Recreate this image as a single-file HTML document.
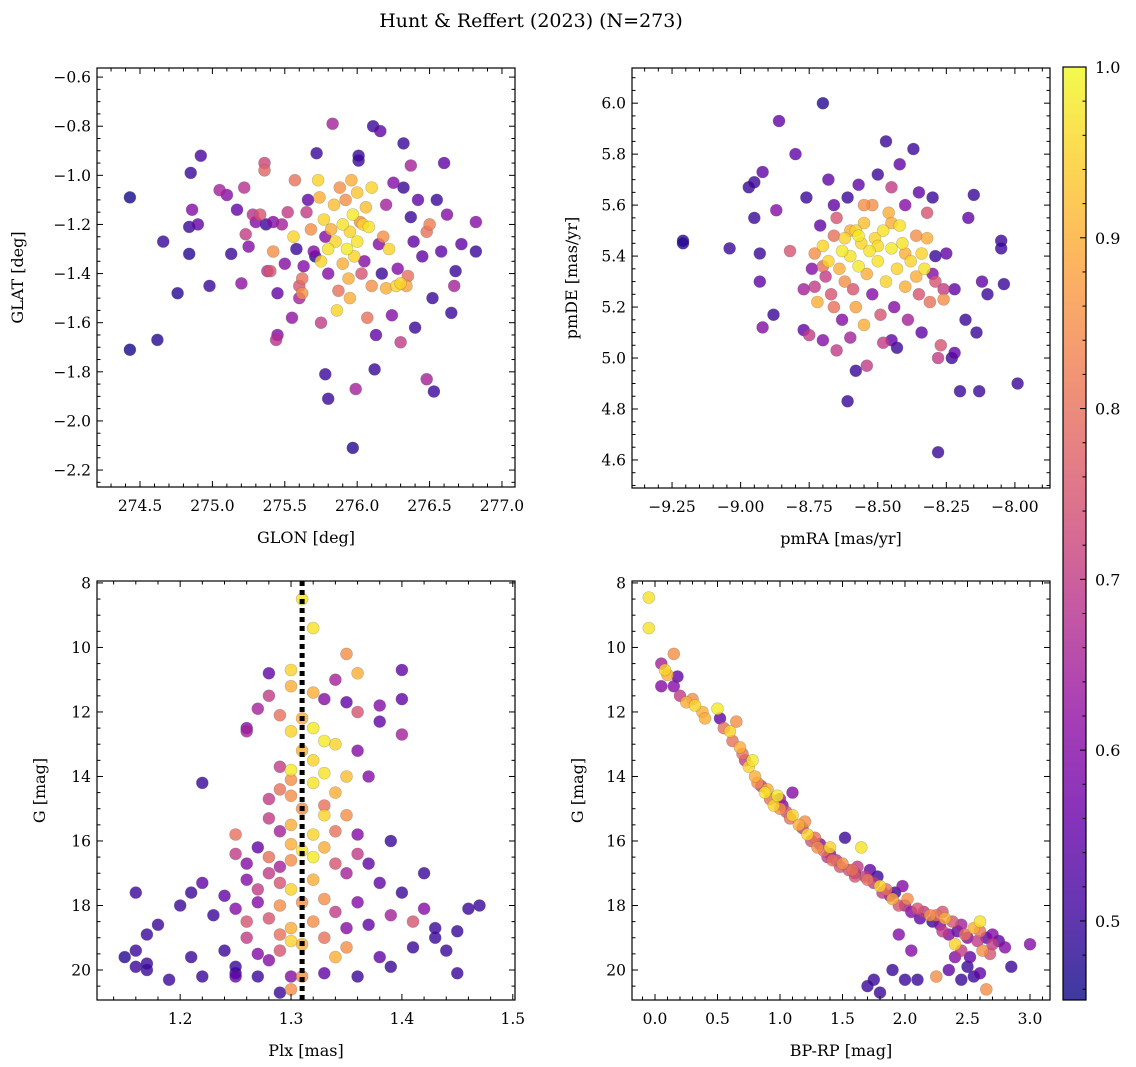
<!DOCTYPE html>
<html><head><meta charset="utf-8">
<style>
html,body{margin:0;padding:0;background:#fff;}
svg{display:block;font-family:"DejaVu Serif","Liberation Serif",serif;}
</style></head>
<body>
<svg id="fig" width="1136" height="1067" viewBox="0 0 1136 1067">
<defs>
<linearGradient id="plasma" x1="0" y1="1" x2="0" y2="0">
<stop offset="0" stop-color="#0d0887"/><stop offset="0.1" stop-color="#41049d"/><stop offset="0.2" stop-color="#6a00a8"/>
<stop offset="0.3" stop-color="#8f0da4"/><stop offset="0.4" stop-color="#b12a90"/><stop offset="0.5" stop-color="#cc4778"/>
<stop offset="0.6" stop-color="#e16462"/><stop offset="0.7" stop-color="#f2844b"/><stop offset="0.8" stop-color="#fca636"/>
<stop offset="0.9" stop-color="#fcce25"/><stop offset="1" stop-color="#f0f921"/>
</linearGradient>
</defs>
<text x="531" y="27" font-size="19" text-anchor="middle">Hunt &amp; Reffert (2023) (N=273)</text>
</svg>
<script>
// ---- data (x, y, membership probability) ----
const skyGlon = [274.43,274.43,274.66,274.62,274.76,274.84,274.84,274.85,274.92,274.98,274.86,275.05,275.1,275.13,275.17,275.2,275.22,275.23,275.25,275.28,275.3,275.33,275.36,275.36,275.37,275.38,275.4,275.42,275.42,275.45,275.44,275.45,275.48,275.5,275.52,275.55,275.56,275.57,275.58,275.6,275.6,275.62,275.62,275.63,275.65,275.66,275.68,275.7,275.71,275.72,275.73,275.74,275.75,275.75,275.77,275.78,275.78,275.8,275.8,275.8,275.82,275.83,275.84,275.85,275.86,275.87,275.88,275.9,275.9,275.92,275.93,275.94,275.95,275.95,275.96,275.97,275.97,275.98,275.99,276.0,276.0,276.01,276.01,276.02,276.03,276.04,276.05,276.06,276.07,276.08,276.1,276.1,276.11,276.12,276.13,276.15,276.16,276.17,276.18,276.2,276.2,276.22,276.24,276.25,276.27,276.28,276.3,276.3,276.32,276.32,276.34,276.35,276.37,276.37,276.39,276.4,276.42,276.45,276.48,276.48,276.5,276.52,276.53,276.55,276.58,276.6,276.62,276.65,276.67,276.68,276.72,276.82,276.82,274.9];
const skyGlat = [-1.09,-1.71,-1.27,-1.67,-1.48,-1.21,-1.32,-0.99,-0.92,-1.45,-1.14,-1.06,-1.08,-1.32,-1.14,-1.44,-1.05,-1.24,-1.29,-1.16,-1.19,-1.16,-0.95,-0.98,-1.2,-1.39,-1.39,-1.31,-1.19,-1.48,-1.67,-1.65,-1.2,-1.36,-1.15,-1.58,-1.25,-1.02,-1.3,-1.45,-1.5,-1.42,-1.48,-1.37,-1.15,-1.1,-1.22,-1.31,-1.33,-0.91,-1.02,-1.09,-1.35,-1.6,-1.18,-1.25,-1.81,-1.91,-1.4,-1.3,-1.22,-0.79,-1.12,-1.27,-1.55,-1.47,-1.05,-1.2,-1.36,-1.1,-1.3,-1.42,-1.5,-1.23,-1.02,-2.11,-1.16,-1.33,-1.87,-1.07,-1.27,-0.94,-0.92,-1.19,-1.4,-1.2,-1.35,-1.13,-1.58,-1.21,-1.05,-1.45,-0.8,-1.79,-1.65,-1.28,-0.82,-1.4,-1.25,-1.46,-1.12,-1.3,-1.57,-1.03,-1.45,-1.38,-1.44,-1.68,-0.87,-1.05,-1.45,-1.41,-1.17,-0.96,-1.27,-1.62,-1.1,-1.33,-1.23,-1.83,-1.2,-1.5,-1.88,-1.1,-1.31,-0.95,-1.16,-1.56,-1.45,-1.39,-1.28,-1.19,-1.31,-1.2];
const skyProb = [.46,.46,.5,.48,.48,.5,.48,.5,.52,.5,.6,.65,.6,.5,.55,.62,.68,.7,.6,.68,.6,.75,.72,.78,.5,.68,.75,.85,.6,.55,.68,.6,.65,.6,.7,.62,.95,.8,.5,.75,.65,.8,.85,.6,.7,.55,.85,.6,.48,.5,.95,.9,.95,.7,.95,.6,.5,.5,.6,.97,.9,.65,.92,.95,.95,.8,.85,.97,.9,.85,.98,.9,.9,.95,.9,.48,.98,.95,.65,.93,.97,.5,.5,.85,.75,.95,.6,.92,.8,.97,.95,.85,.5,.5,.55,.6,.55,.5,.85,.9,.65,.95,.6,.6,.95,.6,.95,.7,.5,.5,.88,.8,.5,.65,.55,.5,.55,.55,.8,.65,.82,.5,.5,.5,.55,.55,.6,.5,.65,.5,.55,.6,.5,.55];

const pmRA = [-9.21,-9.21,-9.04,-8.97,-8.95,-8.95,-8.93,-8.93,-8.92,-8.92,-8.88,-8.87,-8.86,-8.82,-8.8,-8.77,-8.77,-8.76,-8.75,-8.74,-8.73,-8.73,-8.72,-8.71,-8.7,-8.7,-8.7,-8.69,-8.68,-8.68,-8.67,-8.66,-8.66,-8.66,-8.65,-8.65,-8.64,-8.63,-8.63,-8.62,-8.62,-8.61,-8.61,-8.6,-8.6,-8.59,-8.58,-8.58,-8.58,-8.57,-8.57,-8.56,-8.55,-8.55,-8.54,-8.54,-8.53,-8.52,-8.52,-8.51,-8.5,-8.5,-8.49,-8.48,-8.48,-8.47,-8.47,-8.46,-8.45,-8.45,-8.45,-8.44,-8.43,-8.43,-8.42,-8.42,-8.41,-8.4,-8.4,-8.39,-8.38,-8.37,-8.36,-8.35,-8.35,-8.34,-8.34,-8.33,-8.32,-8.32,-8.31,-8.3,-8.3,-8.29,-8.29,-8.28,-8.28,-8.27,-8.26,-8.26,-8.25,-8.23,-8.22,-8.22,-8.2,-8.18,-8.17,-8.15,-8.14,-8.13,-8.12,-8.1,-8.05,-8.05,-8.04,-7.99,-8.55,-8.45,-8.6,-8.7,-8.4,-8.36,-8.57,-8.5];
const pmDE = [5.46,5.45,5.43,5.67,5.69,5.55,5.41,5.3,5.12,5.73,5.17,5.58,5.93,5.42,5.8,5.27,5.11,5.63,5.09,5.35,5.41,5.28,5.22,5.52,6.0,5.07,5.44,5.32,5.7,5.38,5.25,5.48,5.2,5.6,5.03,5.55,5.35,5.42,5.15,5.3,5.47,4.83,5.63,5.4,5.08,5.27,5.5,5.2,4.95,5.36,5.68,5.45,5.13,5.53,5.33,4.97,5.42,5.6,5.25,5.47,5.72,5.38,5.17,5.5,5.06,5.85,5.3,5.57,5.43,5.07,5.67,5.2,5.35,5.04,5.52,5.76,5.45,5.28,5.6,5.15,5.38,5.82,5.48,5.25,5.65,5.1,5.41,5.35,5.47,5.57,5.22,5.33,5.63,5.4,5.3,4.63,5.0,5.05,5.23,5.27,5.41,5.0,5.02,5.27,4.87,5.15,5.55,5.64,5.1,4.87,5.3,5.25,5.46,5.43,5.29,4.9,5.6,5.53,5.5,5.36,5.41,5.32,5.48,5.44];
const pmProb = [.48,.48,.5,.5,.5,.5,.5,.55,.6,.55,.5,.6,.55,.75,.55,.65,.55,.5,.7,.6,.85,.7,.9,.55,.48,.6,.95,.7,.55,.95,.75,.8,.8,.55,.7,.75,.9,.98,.6,.85,.95,.5,.5,.97,.65,.75,.95,.88,.5,.98,.55,.95,.9,.92,.9,.7,.97,.85,.6,.95,.5,.97,.75,.97,.7,.5,.95,.9,.98,.55,.7,.6,.95,.5,.97,.55,.97,.9,.6,.65,.95,.5,.85,.75,.55,.55,.95,.97,.9,.75,.8,.6,.5,.5,.75,.5,.7,.75,.85,.7,.55,.5,.55,.55,.5,.5,.55,.5,.5,.5,.55,.5,.5,.5,.5,.5,.85,.9,.9,.8,.9,.9,.98,.96];

const cmdPlx = [1.15,1.16,1.16,1.16,1.17,1.17,1.18,1.17,1.19,1.2,1.21,1.21,1.22,1.22,1.22,1.23,1.24,1.24,1.25,1.25,1.25,1.25,1.25,1.25,1.26,1.26,1.26,1.26,1.26,1.26,1.27,1.27,1.27,1.27,1.27,1.28,1.28,1.28,1.28,1.28,1.28,1.28,1.29,1.29,1.29,1.29,1.29,1.29,1.29,1.29,1.3,1.3,1.3,1.3,1.3,1.3,1.3,1.3,1.3,1.3,1.3,1.3,1.3,1.31,1.31,1.31,1.31,1.31,1.31,1.31,1.31,1.32,1.32,1.32,1.32,1.32,1.32,1.32,1.32,1.32,1.33,1.33,1.33,1.33,1.33,1.33,1.33,1.33,1.34,1.34,1.34,1.34,1.34,1.34,1.35,1.35,1.35,1.35,1.35,1.35,1.35,1.36,1.36,1.36,1.36,1.36,1.36,1.37,1.37,1.37,1.38,1.38,1.38,1.38,1.39,1.39,1.39,1.4,1.4,1.4,1.4,1.41,1.41,1.42,1.42,1.43,1.43,1.44,1.45,1.45,1.46,1.47,1.27,1.28,1.29,1.3,1.29,1.33,1.34,1.36];
const cmdG1 = [19.6,17.6,19.9,19.4,20.0,18.9,18.6,19.8,20.3,18.0,17.6,19.6,20.2,17.3,14.2,18.3,19.4,17.7,20.1,19.9,20.2,16.4,15.8,18.1,12.6,12.5,17.2,16.7,18.5,19.0,20.2,16.2,17.9,19.5,11.9,15.3,14.7,16.5,18.4,19.7,10.8,11.5,12.1,13.7,16.8,17.3,18.0,19.4,20.7,14.4,10.7,11.2,12.6,13.8,15.5,16.6,17.5,18.7,20.2,20.6,19.1,16.1,14.6,8.5,13.2,15.0,17.9,20.2,19.2,12.2,16.3,9.4,12.5,13.5,14.2,15.8,17.2,18.5,11.4,16.5,12.9,13.9,15.2,16.2,17.8,19.0,20.1,11.6,14.5,13.0,16.7,18.2,19.6,11.0,10.2,11.7,14.0,15.2,17.0,18.7,19.3,10.8,12.0,13.2,15.8,17.9,20.2,14.0,16.7,18.6,12.3,11.8,17.3,19.6,16.0,18.3,19.9,10.7,11.6,12.7,17.6,18.5,19.3,17.0,18.1,19.0,18.7,19.4,20.1,18.8,18.1,18.0,17.5,17.0,15.7,14.1,18.9,14.9,15.7,16.4];
const cmdProb1 = [.48,.5,.5,.5,.5,.5,.5,.5,.5,.5,.5,.5,.5,.55,.5,.5,.5,.55,.5,.5,.55,.7,.8,.6,.65,.6,.6,.6,.75,.7,.5,.55,.6,.6,.65,.7,.7,.8,.75,.6,.55,.7,.8,.7,.65,.75,.85,.75,.5,.8,.95,.9,.95,.98,.9,.85,.95,.9,.6,.85,.95,.9,.85,.97,.9,.85,.85,.85,.9,.9,.97,.97,.98,.95,.97,.95,.9,.85,.9,.98,.98,.97,.95,.9,.85,.8,.55,.6,.9,.95,.75,.7,.9,.65,.85,.55,.92,.85,.65,.6,.85,.9,.75,.6,.6,.6,.5,.6,.55,.55,.55,.6,.55,.55,.5,.65,.5,.55,.55,.65,.5,.75,.5,.5,.6,.5,.5,.5,.5,.5,.5,.5,.7,.7,.65,.85,.8,.8,.8,.7];

const cmdBpRp = [-0.05,-0.05,0.05,0.05,0.08,0.1,0.15,0.15,0.18,0.2,0.25,0.3,0.32,0.38,0.4,0.5,0.52,0.55,0.6,0.62,0.65,0.68,0.7,0.72,0.75,0.78,0.8,0.82,0.85,0.88,0.9,0.92,0.95,0.98,1.0,1.02,1.05,1.08,1.1,1.1,1.15,1.18,1.2,1.22,1.25,1.28,1.3,1.32,1.35,1.38,1.4,1.42,1.45,1.48,1.5,1.52,1.55,1.58,1.6,1.62,1.65,1.68,1.7,1.72,1.75,1.78,1.8,1.82,1.85,1.88,1.9,1.92,1.95,1.98,2.0,2.02,2.05,2.1,2.12,2.15,2.2,2.22,2.25,2.28,2.3,2.32,2.35,2.38,2.4,2.42,2.45,2.48,2.5,2.52,2.55,2.58,2.6,2.62,2.65,2.68,2.7,2.75,2.8,2.85,3.0,2.65,2.6,2.5,2.45,2.55,2.4,2.35,2.25,2.1,2.0,1.9,1.95,1.8,1.75,1.7,2.05,2.6,2.7,2.3,2.45,1.4,1.0,1.6];
const cmdG2 = [8.45,9.4,10.5,11.2,10.7,10.85,11.2,10.2,10.9,11.5,11.7,11.6,11.8,12.0,12.2,11.9,12.2,12.5,12.6,12.9,12.3,13.1,13.3,13.5,13.7,13.5,14.0,14.2,14.3,14.5,14.4,14.7,14.9,14.6,15.0,14.9,15.1,15.3,15.2,14.5,15.5,15.6,15.4,15.8,16.0,15.9,16.2,16.1,16.3,16.5,16.2,16.6,16.6,16.8,16.7,15.9,16.9,16.9,17.0,16.8,16.2,17.1,17.2,16.9,17.3,17.1,17.4,17.6,17.5,17.7,17.8,17.6,18.0,17.4,18.0,17.8,18.2,18.1,18.4,18.2,18.3,18.5,18.3,18.6,18.8,18.4,18.9,18.5,19.2,18.8,19.4,18.9,19.0,19.6,18.7,19.1,18.5,19.4,19.0,19.5,18.9,19.1,19.3,19.9,19.2,20.6,20.1,19.9,20.3,20.2,19.6,20.0,20.2,20.3,20.3,20.0,18.9,20.7,20.3,20.5,19.4,18.8,19.2,18.2,18.6,16.4,14.7,17.1];
const cmdProb2 = [.97,.97,.65,.6,.95,.9,.6,.85,.55,.7,.9,.85,.95,.9,.9,.98,.55,.8,.95,.8,.85,.9,.8,.7,.95,.98,.9,.85,.7,.97,.9,.8,.95,.98,.85,.6,.75,.8,.95,.6,.9,.7,.85,.95,.75,.8,.85,.6,.8,.7,.95,.8,.7,.75,.85,.5,.75,.8,.65,.7,.97,.7,.8,.55,.7,.5,.95,.7,.8,.6,.9,.5,.75,.6,.65,.85,.6,.75,.55,.7,.85,.5,.8,.6,.7,.9,.6,.75,.95,.55,.7,.8,.6,.55,.9,.7,.97,.85,.55,.75,.6,.55,.6,.5,.6,.85,.55,.5,.5,.5,.6,.55,.85,.5,.5,.5,.6,.5,.5,.5,.6,.8,.7,.75,.65,.6,.65,.75];

// colorbar
const cbMin = 0.4537, cbMax = 1.0;
const cbTicks = [0.5,0.6,0.7,0.8,0.9,1.0];

const NS = "http://www.w3.org/2000/svg";
const svg = document.getElementById('fig');
const stops = ["#0d0887","#41049d","#6a00a8","#8f0da4","#b12a90","#cc4778","#e16462","#f2844b","#fca636","#fcce25","#f0f921"];
function hex(h){return [1,3,5].map(i=>parseInt(h.substr(i,2),16));}
function plasma(t){t=Math.max(0,Math.min(1,t));const f=t*10,i=Math.min(9,Math.floor(f)),u=f-i;const a=hex(stops[i]),b=hex(stops[i+1]);return 'rgb('+a.map((v,k)=>Math.round(v+(b[k]-v)*u)).join(',')+')';}
function el(tag,attrs,parent){const e=document.createElementNS(NS,tag);for(const k in attrs)e.setAttribute(k,attrs[k]);(parent||svg).appendChild(e);return e;}
function txt(x,y,s,attrs,parent){const t=el('text',Object.assign({x:x,y:y,'font-size':15.5},attrs||{}),parent);t.textContent=s;return t;}

function panel(cfg){
  const g=el('g',{});
  
  
  const {L,T,W,H,xmin,xmax,ymin,ymax}=cfg;
  const sx=v=>L+(v-xmin)/(xmax-xmin)*W;
  const sy=cfg.invert? (v=>T+(v-ymin)/(ymax-ymin)*H) : (v=>T+H-(v-ymin)/(ymax-ymin)*H);
  const pg=el('g',{},g);
  
  
  const order=cfg.p.map((p,i)=>i).sort((a,b)=>cfg.p[a]-cfg.p[b]);
  order.forEach(i=>{
    const c=el('circle',{cx:sx(cfg.x[i]).toFixed(1),cy:sy(cfg.y[i]).toFixed(1),r:6,fill:plasma((cfg.p[i]-cbMin)/(cbMax-cbMin)),'fill-opacity':0.8,stroke:'#555','stroke-opacity':0.35,'stroke-width':0.6},pg);
    
    
  });
  if(cfg.vline!==undefined){
    const ln=el('line',{x1:sx(cfg.vline),x2:sx(cfg.vline),y1:T,y2:T+H,stroke:'#000','stroke-width':5,'stroke-dasharray':'5,4'},g);
    
    
  }
  const fr=el('rect',{x:L,y:T,width:W,height:H,fill:'none',stroke:'#000','stroke-width':1.2},g);
  
  
  const eps=1e-9;
  const tg=el('g',{stroke:'#000','stroke-width':1},g);
  for(let k=Math.ceil(xmin/cfg.xminor-eps);k*cfg.xminor<=xmax+eps;k++){
    const v=k*cfg.xminor, X=sx(v);
    const major=Math.abs(v/cfg.xmajor-Math.round(v/cfg.xmajor))<1e-6;
    const len=major?6:3.5;
    el('line',{x1:X,x2:X,y1:T+H,y2:T+H-len},tg);el('line',{x1:X,x2:X,y1:T,y2:T+len},tg);
  }
  for(let k=Math.ceil(Math.min(ymin,ymax)/cfg.yminor-eps);k*cfg.yminor<=Math.max(ymin,ymax)+eps;k++){
    const v=k*cfg.yminor, Y=sy(v);
    const major=Math.abs(v/cfg.ymajor-Math.round(v/cfg.ymajor))<1e-6;
    const len=major?6:3.5;
    el('line',{x1:L,x2:L+len,y1:Y,y2:Y},tg);el('line',{x1:L+W,x2:L+W-len,y1:Y,y2:Y},tg);
  }
  cfg.xticks.forEach(v=>{const t=txt(sx(v),T+H+24,cfg.xfmt(v),{'text-anchor':'middle'},g);
    });
  cfg.yticks.forEach(v=>{const t=txt(L-6,sy(v)+5.5,cfg.yfmt(v),{'text-anchor':'end'},g);
    });
  const xl=txt(L+W/2,T+H+56,cfg.xlabel,{'text-anchor':'middle','font-size':16},g);
  
  const yx=cfg.ylabX, yy=T+H/2;
  const yl=txt(yx,yy,cfg.ylabel,{'text-anchor':'middle','font-size':16,transform:'rotate(-90 '+yx+' '+yy+')'},g);
  
}
const minus=s=>s.replace('-','\u2212');
panel({name:'sky-panel',L:97,T:68,W:418,H:419,xmin:274.203,xmax:277.09,ymin:-2.269,ymax:-0.563,
  x:skyGlon,y:skyGlat,p:skyProb,xmajor:0.5,xminor:0.1,ymajor:0.2,yminor:0.05,
  xticks:[274.5,275.0,275.5,276.0,276.5,277.0],yticks:[-2.2,-2.0,-1.8,-1.6,-1.4,-1.2,-1.0,-0.8,-0.6],
  xfmt:v=>v.toFixed(1),yfmt:v=>minus(v.toFixed(1)),xlabel:'GLON [deg]',ylabel:'GLAT [deg]',ylabX:23});
panel({name:'proper-motion-panel',L:632,T:68,W:418,H:420,xmin:-9.396,xmax:-7.872,ymin:4.49,ymax:6.138,
  x:pmRA,y:pmDE,p:pmProb,xmajor:0.25,xminor:0.05,ymajor:0.2,yminor:0.05,
  xticks:[-9.25,-9.0,-8.75,-8.5,-8.25,-8.0],yticks:[4.6,4.8,5.0,5.2,5.4,5.6,5.8,6.0],
  xfmt:v=>minus(v.toFixed(2)),yfmt:v=>v.toFixed(1),xlabel:'pmRA [mas/yr]',ylabel:'pmDE [mas/yr]',ylabX:577});
panel({name:'parallax-magnitude-panel',L:97,T:581,W:418,H:419,xmin:1.125,xmax:1.502,ymin:7.94,ymax:20.93,invert:true,vline:1.31,
  x:cmdPlx,y:cmdG1,p:cmdProb1,xmajor:0.1,xminor:0.02,ymajor:2,yminor:0.5,
  xticks:[1.2,1.3,1.4,1.5],yticks:[8,10,12,14,16,18,20],
  xfmt:v=>v.toFixed(1),yfmt:v=>String(v),xlabel:'Plx [mas]',ylabel:'G [mag]',ylabX:45});
panel({name:'color-magnitude-panel',L:632,T:581,W:418,H:419,xmin:-0.184,xmax:3.16,ymin:7.94,ymax:20.93,invert:true,
  x:cmdBpRp,y:cmdG2,p:cmdProb2,xmajor:0.5,xminor:0.1,ymajor:2,yminor:0.5,
  xticks:[0,0.5,1.0,1.5,2.0,2.5,3.0],yticks:[8,10,12,14,16,18,20],
  xfmt:v=>v.toFixed(1),yfmt:v=>String(v),xlabel:'BP-RP [mag]',ylabel:'G [mag]',ylabX:583});

// colorbar
(function(){
  const L=1063,T=67,W=23,H=933;
  const g=el('g',{});
  
  
  el('rect',{x:L,y:T,width:W,height:H,fill:'url(#plasma)','fill-opacity':0.8},g);
  el('rect',{x:L,y:T,width:W,height:H,fill:'none',stroke:'#000','stroke-width':1.2},g);
  const sy=v=>T+H-(v-cbMin)/(cbMax-cbMin)*H;
  for(let k=23;k<=50;k++){const v=k*0.02;if(v<cbMin||v>cbMax+1e-9)continue;const Y=sy(v);
    const major=k%5===0;el('line',{x1:L+W,x2:L+W-(major?6:3.5),y1:Y,y2:Y,stroke:'#000','stroke-width':1},g);}
  cbTicks.forEach(v=>{const t=txt(L+W+9,sy(v)+6,v.toFixed(1),{'font-size':16},g);
    });
})();
</script>
</body></html>
